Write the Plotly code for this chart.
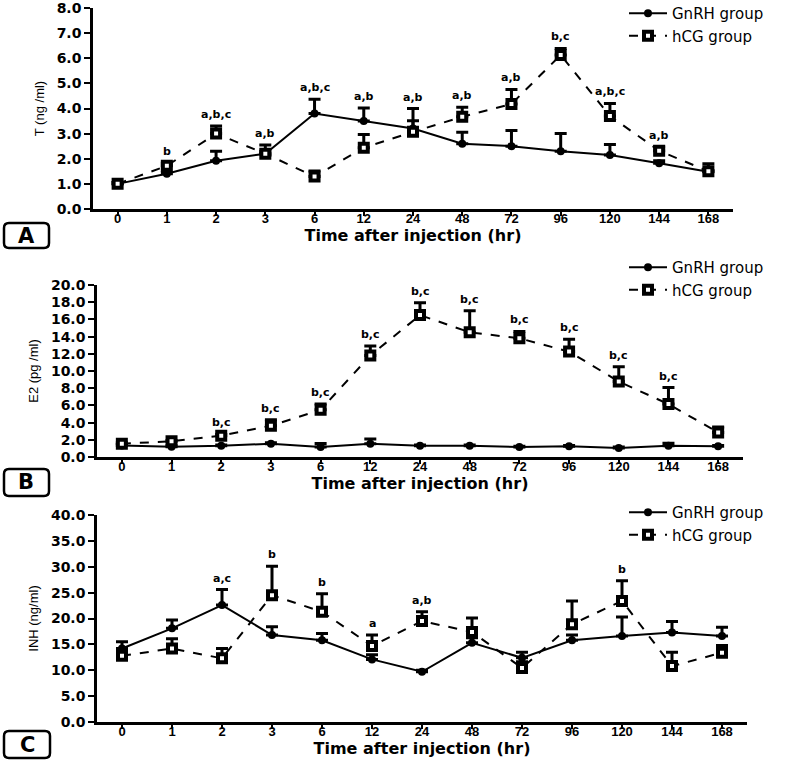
import plotly.graph_objects as go

W, H = 787, 769

x_labels = ["0", "1", "2", "3", "6", "12", "24", "48", "72", "96", "120", "144", "168"]

T_gnrh = [1.0, 1.4, 1.92, 2.2, 3.8, 3.5, 3.2, 2.6, 2.5, 2.3, 2.15, 1.82, 1.48]
T_gnrh_err = [0.05, 0.05, 0.38, 0.1, 0.57, 0.52, 0.31, 0.45, 0.62, 0.7, 0.42, 0.1, 0.05]
T_hcg = [1.0, 1.72, 3.0, 2.2, 1.29, 2.44, 3.07, 3.67, 4.18, 6.13, 3.7, 2.32, 1.5]
T_hcg_err = [0.05, 0.1, 0.3, 0.35, 0.22, 0.53, 0.93, 0.38, 0.58, 0.26, 0.5, 0.15, 0.3]
T_sig = ["", "b", "a,b,c", "a,b", "a,b,c", "a,b", "a,b", "a,b", "a,b", "b,c", "a,b,c", "a,b", ""]

E2_gnrh = [1.35, 1.2, 1.3, 1.55, 1.16, 1.55, 1.3, 1.3, 1.16, 1.24, 1.05, 1.3, 1.24]
E2_gnrh_err = [0.1, 0.1, 0.1, 0.1, 0.4, 0.55, 0.1, 0.1, 0.1, 0.1, 0.1, 0.3, 0.1]
E2_hcg = [1.55, 1.82, 2.48, 3.64, 5.49, 11.8, 16.5, 14.5, 13.8, 12.26, 8.78, 6.15, 2.86]
E2_hcg_err = [0.1, 0.1, 0.15, 0.69, 0.66, 1.1, 1.45, 2.5, 0.8, 1.44, 1.72, 1.93, 0.62]
E2_sig = ["", "", "b,c", "b,c", "b,c", "b,c", "b,c", "b,c", "b,c", "b,c", "b,c", "b,c", ""]

INH_gnrh = [14.2, 18.1, 22.6, 16.8, 15.8, 12.1, 9.7, 15.3, 12.4, 15.8, 16.6, 17.3, 16.6]
INH_gnrh_err = [1.3, 1.6, 3.0, 1.6, 1.3, 0.9, 0.3, 1.0, 1.1, 1.0, 3.7, 2.1, 1.7]
INH_hcg = [12.8, 14.2, 12.3, 24.5, 21.3, 14.7, 19.5, 17.4, 10.45, 18.9, 23.4, 10.8, 13.4]
INH_hcg_err = [0.4, 1.9, 1.9, 5.6, 3.5, 2.1, 1.8, 2.7, 1.2, 4.5, 3.9, 2.7, 1.4]
INH_sig = ["", "", "a,c", "b", "b", "a", "a,b", "", "", "", "b", "", ""]

series_names = ["GnRH group", "hCG group"]
panel_letters = ["A", "B", "C"]
y_titles = ["T (ng /ml)", "E2 (pg /ml)", "INH (ng/ml)"]
x_title = "Time after injection (hr)"

SANS = "Liberation Sans, Arial, sans-serif"
WIDE = "DejaVu Sans, Verdana, sans-serif"

# pixel layout of each panel: (left, right, top, bottom)
panels = [
    dict(px=(93, 733, 8, 209), ymax=8.0, dtick=1.0,
         g=T_gnrh, ge=T_gnrh_err, h=T_hcg, he=T_hcg_err, sig=T_sig,
         box=(4, 49, 223, 248), leg=(624, -3), xstand=0),
    dict(px=(97, 743, 285, 457), ymax=20.0, dtick=2.0,
         g=E2_gnrh, ge=E2_gnrh_err, h=E2_hcg, he=E2_hcg_err, sig=E2_sig,
         box=(4, 49, 469, 496), leg=(624, 251), xstand=0),
    dict(px=(97, 747, 515, 722), ymax=40.0, dtick=5.0,
         g=INH_gnrh, ge=INH_gnrh_err, h=INH_hcg, he=INH_hcg_err, sig=INH_sig,
         box=(4, 50, 731, 758), leg=(624, 496), xstand=3),
]

xi = list(range(len(x_labels)))

fig = go.Figure()
layout = dict(width=W, height=H, margin=dict(l=0, r=0, t=0, b=0, autoexpand=False),
              paper_bgcolor="white", plot_bgcolor="white",
              font=dict(family=SANS, color="black"), showlegend=True)
annotations = []
shapes = []


def px2x(p):
    return p / W


def px2y(p):
    return 1 - p / H


def rounded_rect(x0, y0, x1, y1, r):
    X = px2x
    Y = px2y
    return (f"M {X(x0 + r)},{Y(y0)} L {X(x1 - r)},{Y(y0)} Q {X(x1)},{Y(y0)} {X(x1)},{Y(y0 + r)} "
            f"L {X(x1)},{Y(y1 - r)} Q {X(x1)},{Y(y1)} {X(x1 - r)},{Y(y1)} "
            f"L {X(x0 + r)},{Y(y1)} Q {X(x0)},{Y(y1)} {X(x0)},{Y(y1 - r)} "
            f"L {X(x0)},{Y(y0 + r)} Q {X(x0)},{Y(y0)} {X(x0 + r)},{Y(y0)} Z")


for i, p in enumerate(panels):
    n = i + 1
    xa = "x" if n == 1 else f"x{n}"
    ya = "y" if n == 1 else f"y{n}"
    legname = "legend" if n == 1 else f"legend{n}"
    l, r, t, b = p["px"]

    fig.add_trace(go.Scatter(
        x=xi, y=p["g"], mode="lines+markers", name=series_names[0],
        xaxis=xa, yaxis=ya, legend=legname,
        line=dict(color="black", width=2),
        marker=dict(symbol="circle", size=8, color="black"),
        error_y=dict(type="data", symmetric=False, array=p["ge"],
                     arrayminus=[0] * len(p["ge"]), color="black",
                     thickness=3, width=6),
    ))
    fig.add_trace(go.Scatter(
        x=xi, y=p["h"], mode="lines+markers", name=series_names[1],
        xaxis=xa, yaxis=ya, legend=legname,
        line=dict(color="black", width=2, dash="dash"),
        marker=dict(symbol="square", size=8, color="white",
                    line=dict(color="black", width=4)),
        error_y=dict(type="data", symmetric=False, array=p["he"],
                     arrayminus=[0] * len(p["he"]), color="black",
                     thickness=3, width=6),
    ))

    xkey = "xaxis" if n == 1 else f"xaxis{n}"
    ykey = "yaxis" if n == 1 else f"yaxis{n}"
    layout[xkey] = dict(
        domain=[px2x(l), px2x(r)], anchor=ya, range=[-0.5, len(x_labels) - 0.5],
        tickmode="array", tickvals=xi, ticktext=x_labels,
        showline=True, linecolor="black", linewidth=2.5,
        ticks="outside", ticklen=4, tickwidth=2, tickcolor="black",
        ticklabelstandoff=-8,
        showgrid=False, zeroline=False, automargin=False,
        tickfont=dict(family=SANS, size=13, weight="bold", color="black"),
        title=dict(text=x_title, standoff=p["xstand"],
                   font=dict(family=WIDE, size=16, weight="bold", color="black")),
    )
    layout[ykey] = dict(
        domain=[px2y(b), px2y(t)], anchor=xa, range=[0, p["ymax"]],
        dtick=p["dtick"], tick0=0, tickformat=".1f",
        showline=True, linecolor="black", linewidth=2.5,
        ticks="outside", ticklen=6, tickwidth=2, tickcolor="black",
        ticklabeloverflow="allow",
        showgrid=False, zeroline=False, automargin=False,
        tickfont=dict(family=WIDE, size=14, weight="bold", color="black"),
        title=dict(text=y_titles[i], standoff=10,
                   font=dict(family=SANS, size=13, color="black")),
    )

    lx, ly = p["leg"]
    layout[legname] = dict(
        x=px2x(lx), y=px2y(ly), xanchor="left", yanchor="top",
        bgcolor="rgba(0,0,0,0)", font=dict(family=WIDE, size=15, color="black"),
        itemwidth=38, tracegroupgap=0,
    )

    # significance letters above the highest error bar at each time point
    for k, s in enumerate(p["sig"]):
        if not s:
            continue
        top = max(p["g"][k] + p["ge"][k], p["h"][k] + p["he"][k])
        annotations.append(dict(
            x=xi[k], y=top, xref=xa, yref=ya, text=s, showarrow=False,
            yanchor="bottom", yshift=3,
            font=dict(family=WIDE, size=11, weight="bold", color="black")))

    # panel letter in rounded box
    bx0, bx1, by0, by1 = p["box"]
    shapes.append(dict(type="path", path=rounded_rect(bx0, by0, bx1, by1, 5),
                       xref="paper", yref="paper",
                       line=dict(color="black", width=2.5)))
    annotations.append(dict(
        x=px2x((bx0 + bx1) / 2), y=px2y((by0 + by1) / 2), xref="paper", yref="paper",
        text=panel_letters[i], showarrow=False, xanchor="center", yanchor="middle",
        font=dict(family=WIDE, size=21, weight="bold", color="black")))

layout["annotations"] = annotations
layout["shapes"] = shapes
fig.update_layout(**layout)
fig.write_html("out.html", config={"displayModeBar": False},
               post_script="document.body.style.margin='0';document.body.style.overflow='hidden';")
